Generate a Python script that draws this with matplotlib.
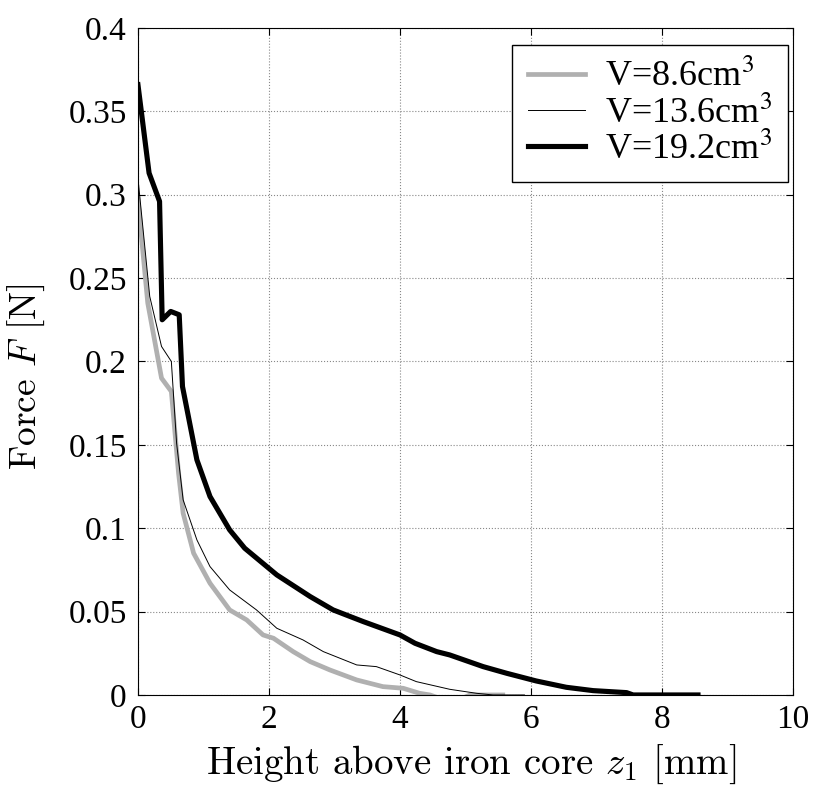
import matplotlib
matplotlib.use("Agg")
import matplotlib.pyplot as plt
import numpy as np

# data
z_86 = [0.0, 0.15, 0.36, 0.51, 0.62, 0.69, 0.85, 1.1, 1.4, 1.66, 1.91, 2.07, 2.37,
        2.63, 2.93, 3.34, 3.74, 4.05, 4.3, 4.46, 4.6, 4.95, 5.07, 5.57]
F_86 = [0.297, 0.235, 0.19, 0.182, 0.133, 0.109, 0.085, 0.067, 0.051, 0.045, 0.036,
        0.034, 0.026, 0.020, 0.015, 0.009, 0.005, 0.004, 0.001, 0.0, -0.002, -0.002,
        0.0, 0.0]

z_136 = [0.0, 0.18, 0.36, 0.51, 0.59, 0.69, 0.9, 1.1, 1.4, 1.81, 2.12, 2.52, 2.83,
         3.34, 3.64, 4.0, 4.25, 4.76, 5.17, 5.42, 5.9]
F_136 = [0.31, 0.239, 0.209, 0.2, 0.151, 0.117, 0.093, 0.077, 0.063, 0.051, 0.040,
         0.033, 0.026, 0.018, 0.017, 0.012, 0.008, 0.0034, 0.001, 0.0, 0.0]

z_192 = [0.0, 0.17, 0.33, 0.37, 0.5, 0.63, 0.68, 0.9, 1.1, 1.4, 1.63, 2.12, 2.63,
         2.98, 3.44, 4.0, 4.23, 4.56, 4.76, 5.27, 5.63, 6.08, 6.54, 6.95, 7.46,
         7.56, 8.55]
F_192 = [0.366, 0.313, 0.296, 0.225, 0.23, 0.228, 0.185, 0.141, 0.119, 0.099, 0.088,
         0.072, 0.059, 0.051, 0.044, 0.036, 0.031, 0.026, 0.024, 0.017, 0.013,
         0.0084, 0.0046, 0.0026, 0.0014, 0.0, 0.0]

labels = ["V=8.6cm$^3$", "V=13.6cm$^3$", "V=19.2cm$^3$"]
xticks = [0, 2, 4, 6, 8, 10]
yticks = np.arange(0, 0.41, 0.05)
ytick_labels = ['0', '0.05', '0.1', '0.15', '0.2', '0.25', '0.3', '0.35', '0.4']

plt.rcParams['font.family'] = ['Liberation Serif', 'DejaVu Serif']
plt.rcParams['mathtext.fontset'] = 'stix'

fig = plt.figure(figsize=(8.26, 7.9), dpi=100)
ax = fig.add_axes([0.167, 0.1203, 0.793, 0.8443])

ax.plot(z_86, F_86, color='#b0b0b0', lw=3.4, label=labels[0])
ax.plot(z_136, F_136, color='black', lw=0.7, label=labels[1])
ax.plot(z_192, F_192, color='black', lw=3.7, label=labels[2])

ax.set_xlim(0, 10)
ax.set_ylim(0, 0.4)
ax.set_xticks(xticks)
ax.set_yticks(yticks)
ax.set_yticklabels(ytick_labels)
ax.tick_params(direction='in', top=True, right=True, length=5, labelsize=24)
ax.tick_params(axis='x', pad=7)
ax.tick_params(axis='y', pad=8)
ax.grid(True, linestyle=':', color='#888888', lw=0.8)

# axis labels look like LaTeX computer modern
ax.set_xlabel(r'Height above iron core $z_1$ [mm]', family='cmr10', size=28)
ax.set_ylabel(r'Force $F$ [N]', family='cmr10', size=27)
ax.xaxis.label.set_math_fontfamily('cm')
ax.yaxis.label.set_math_fontfamily('cm')
ax.xaxis.set_label_coords(0.508, -0.072)
ax.yaxis.set_label_coords(-0.139, 0.4775)

leg = ax.legend(loc='upper right', bbox_to_anchor=(0.992, 0.9745), borderaxespad=0,
                fontsize=26, fancybox=False, edgecolor='black', framealpha=1,
                handlelength=1.6, handletextpad=0.55, borderpad=0.42,
                labelspacing=0.05)
leg.get_frame().set_linewidth(1.0)

fig.savefig('out.png', dpi=100)
